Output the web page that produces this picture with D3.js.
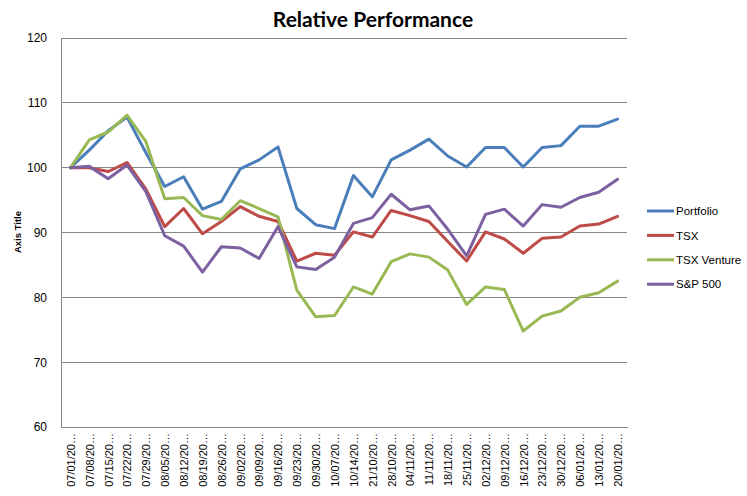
<!DOCTYPE html>
<html><head><meta charset="utf-8">
<script src="https://cdn.jsdelivr.net/npm/d3@7"></script>
<style>body{margin:0;background:#fff}svg{display:block}</style>
</head><body>
<svg id="c" width="747" height="496"></svg>
<script>
const categories = ["07/01/20…","07/08/20…","07/15/20…","07/22/20…","07/29/20…","08/05/20…","08/12/20…","08/19/20…","08/26/20…","09/02/20…","09/09/20…","09/16/20…","09/23/20…","09/30/20…","10/07/20…","10/14/20…","21/10/20…","28/10/20…","04/11/20…","11/11/20…","18/11/20…","25/11/20…","02/12/20…","09/12/20…","16/12/20…","23/12/20…","30/12/20…","06/01/20…","13/01/20…","20/01/20…"];
const portfolio = [100,102.7,105.7,107.8,102.3,97.1,98.6,93.6,94.8,99.8,101.2,103.2,93.7,91.2,90.6,98.8,95.5,101.2,102.7,104.4,101.8,100.1,103.1,103.1,100.1,103.1,103.4,106.4,106.4,107.5];
const tsx = [100,100.0,99.4,100.8,96.7,90.9,93.7,89.8,91.7,94.0,92.5,91.7,85.6,86.8,86.5,90.1,89.3,93.4,92.6,91.7,88.6,85.6,90.1,89.0,86.8,89.1,89.3,91.0,91.3,92.5];
const tsxVenture = [100,104.3,105.5,108.1,104.0,95.2,95.4,92.6,92.0,94.9,93.7,92.4,81.1,77.0,77.2,81.6,80.5,85.5,86.7,86.2,84.2,78.9,81.6,81.2,74.8,77.1,77.9,80.0,80.7,82.5];
const sp500 = [100,100.2,98.3,100.4,96.3,89.5,87.9,83.9,87.8,87.6,86.0,90.9,84.7,84.3,86.2,91.4,92.3,95.9,93.5,94.1,90.5,86.4,92.8,93.6,91.0,94.3,93.9,95.4,96.2,98.2];
const seriesNames = ["Portfolio","TSX","TSX Venture","S&P 500"];
const seriesColors = ["#4A7EBB","#BE4B48","#98B954","#7D60A0"];
const yTicks = [60,70,80,90,100,110,120];
const titleText = "Relative Performance";
const yAxisTitle = "Axis Title";

const allSeries = [portfolio, tsx, tsxVenture, sp500];
const svg = d3.select("#c");
const L = 61, R = 627, T = 38, B = 427;
const x = d3.scalePoint().domain(categories).range([L, R]).padding(0.5);
const y = d3.scaleLinear().domain([60, 120]).range([B, T]);
const grid = "#868686";

// gridlines
svg.append("g").selectAll("line").data(yTicks.filter(t => t !== 60)).join("line")
  .attr("x1", L).attr("x2", R).attr("y1", d => y(d)).attr("y2", d => y(d))
  .attr("stroke", grid).attr("stroke-width", 1).attr("shape-rendering", "crispEdges");

// y axis
const yAxis = svg.append("g").attr("transform", `translate(${L},0)`)
  .call(d3.axisLeft(y).tickValues(yTicks).tickSize(0).tickPadding(14).tickFormat(d3.format("d")));
yAxis.select(".domain").attr("stroke", grid).attr("shape-rendering", "crispEdges");
yAxis.selectAll("text").attr("font-family", "'Liberation Sans', Arial, sans-serif").attr("font-size", "12px").attr("fill", "#000");

// x axis
const xAxis = svg.append("g").attr("transform", `translate(0,${B})`)
  .call(d3.axisBottom(x).tickSize(0).tickPadding(0));
xAxis.select(".domain").attr("stroke", grid).attr("shape-rendering", "crispEdges");
xAxis.selectAll("text")
  .attr("font-family", "'Liberation Sans', Arial, sans-serif").attr("font-size", "11px").attr("fill", "#000")
  .attr("transform", "rotate(-90)")
  .attr("text-anchor", "end").attr("x", -6).attr("y", 0).attr("dy", "0.35em");

// lines
const line = d3.line().x((d, i) => x(categories[i])).y(d => y(d));
svg.append("g").selectAll("path").data(allSeries).join("path")
  .attr("d", d => line(d)).attr("fill", "none")
  .attr("stroke", (d, i) => seriesColors[i]).attr("stroke-width", 3)
  .attr("stroke-linejoin", "round").attr("stroke-linecap", "round");

// title
svg.append("text").attr("x", 373).attr("y", 27).attr("text-anchor", "middle")
  .attr("font-family", "Lato, 'Open Sans', sans-serif").attr("font-weight", "bold").attr("font-size", "21px")
  .text(titleText);

// y axis title
svg.append("text").attr("transform", "translate(21,232) rotate(-90)").attr("text-anchor", "middle")
  .attr("font-family", "'Liberation Sans', Arial, sans-serif").attr("font-weight", "bold").attr("font-size", "9.5px")
  .text(yAxisTitle);

// legend
const leg = svg.append("g").selectAll("g").data(seriesNames).join("g")
  .attr("transform", (d, i) => `translate(647,${211 + i * 24.4})`);
leg.append("line").attr("x1", 0).attr("x2", 27).attr("y1", 0).attr("y2", 0)
  .attr("stroke", (d, i) => seriesColors[i]).attr("stroke-width", 3);
leg.append("text").attr("x", 29).attr("y", 0).attr("dy", "0.36em")
  .attr("font-family", "'Liberation Sans', Arial, sans-serif").attr("font-size", "11.5px")
  .text(d => d);
</script>
</body></html>
